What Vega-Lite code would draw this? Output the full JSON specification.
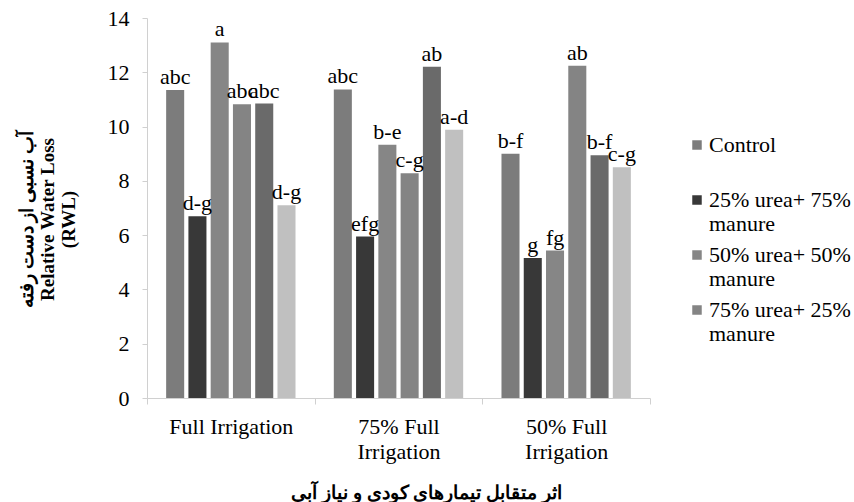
{
  "$schema": "https://vega.github.io/schema/vega-lite/v6.json",
  "width": 503,
  "height": 380,
  "autosize": {"type": "none"},
  "padding": {"left": 147, "top": 18, "right": 204, "bottom": 104},
  "background": "white",
  "config": {"view": {"stroke": null}, "font": "Liberation Serif"},
  "data": {
    "values": [
      {"irrigation": "Full Irrigation", "treatment": "Control", "rwl": 11.35, "letters": "abc"},
      {"irrigation": "Full Irrigation", "treatment": "25% urea+ 75% manure", "rwl": 6.7, "letters": "d-g"},
      {"irrigation": "Full Irrigation", "treatment": "50% urea+ 50% manure", "rwl": 13.1, "letters": "a"},
      {"irrigation": "Full Irrigation", "treatment": "75% urea+ 25% manure", "rwl": 10.82, "letters": "abc"},
      {"irrigation": "Full Irrigation", "treatment": "100% urea", "rwl": 10.85, "letters": "abc"},
      {"irrigation": "Full Irrigation", "treatment": "100% manure", "rwl": 7.1, "letters": "d-g"},
      {"irrigation": "75% Full Irrigation", "treatment": "Control", "rwl": 11.37, "letters": "abc"},
      {"irrigation": "75% Full Irrigation", "treatment": "25% urea+ 75% manure", "rwl": 5.95, "letters": "efg"},
      {"irrigation": "75% Full Irrigation", "treatment": "50% urea+ 50% manure", "rwl": 9.33, "letters": "b-e"},
      {"irrigation": "75% Full Irrigation", "treatment": "75% urea+ 25% manure", "rwl": 8.28, "letters": "c-g"},
      {"irrigation": "75% Full Irrigation", "treatment": "100% urea", "rwl": 12.2, "letters": "ab"},
      {"irrigation": "75% Full Irrigation", "treatment": "100% manure", "rwl": 9.88, "letters": "a-d"},
      {"irrigation": "50% Full Irrigation", "treatment": "Control", "rwl": 9.0, "letters": "b-f"},
      {"irrigation": "50% Full Irrigation", "treatment": "25% urea+ 75% manure", "rwl": 5.16, "letters": "g"},
      {"irrigation": "50% Full Irrigation", "treatment": "50% urea+ 50% manure", "rwl": 5.43, "letters": "fg"},
      {"irrigation": "50% Full Irrigation", "treatment": "75% urea+ 25% manure", "rwl": 12.24, "letters": "ab"},
      {"irrigation": "50% Full Irrigation", "treatment": "100% urea", "rwl": 8.94, "letters": "b-f"},
      {"irrigation": "50% Full Irrigation", "treatment": "100% manure", "rwl": 8.5, "letters": "c-g"}
    ]
  },
  "encoding": {
    "x": {
      "field": "irrigation",
      "type": "nominal",
      "sort": ["Full Irrigation", "75% Full Irrigation", "50% Full Irrigation"],
      "scale": {"paddingInner": 0, "paddingOuter": 0},
      "axis": {
        "labelAngle": 0,
        "labelFontSize": 22,
        "labelColor": "#000000",
        "labelLineHeight": 25,
        "labelBaseline": "top",
        "labelPadding": 12,
        "labelLimit": 300,
        "labelExpr": "datum.value == 'Full Irrigation' ? ['Full Irrigation'] : datum.value == '75% Full Irrigation' ? ['75% Full', 'Irrigation'] : datum.value == '50% Full Irrigation' ? ['50% Full', 'Irrigation'] : ''",
        "tickBand": "extent",
        "tickSize": 6,
        "tickColor": "#d0d0d0",
        "domainColor": "#d0d0d0",
        "title": "اثر متقابل تیمارهای کودی و نیاز آبی",
        "titleFontSize": 19,
        "titleFontWeight": "bold",
        "titleColor": "#000000",
        "titleAlign": "center",
        "titleBaseline": "middle",
        "titleX": 279,
        "titleY": 94
      }
    },
    "xOffset": {
      "field": "treatment",
      "type": "nominal",
      "sort": ["Control", "25% urea+ 75% manure", "50% urea+ 50% manure", "75% urea+ 25% manure", "100% urea", "100% manure"],
      "scale": {"paddingInner": 0.19, "paddingOuter": 0.86}
    },
    "y": {
      "field": "rwl",
      "type": "quantitative",
      "scale": {"domain": [0, 14], "nice": false},
      "axis": {
        "values": [0, 2, 4, 6, 8, 10, 12, 14],
        "grid": false,
        "labelFontSize": 22,
        "labelColor": "#000000",
        "labelPadding": 13,
        "tickSize": 5,
        "tickColor": "#d0d0d0",
        "domainColor": "#d0d0d0",
        "title": ["آب نسبی از دست رفته", "Relative Water Loss", "(RWL)"],
        "titleFontSize": 19,
        "titleFontWeight": "bold",
        "titleColor": "#000000",
        "titleLineHeight": 21,
        "titleAngle": -90,
        "titleAlign": "center",
        "titleBaseline": "middle",
        "titleX": -121,
        "titleY": 201
      }
    }
  },
  "layer": [
    {
      "mark": {"type": "bar"},
      "encoding": {
        "color": {
          "field": "treatment",
          "type": "nominal",
          "scale": {
            "domain": ["Control", "25% urea+ 75% manure", "50% urea+ 50% manure", "75% urea+ 25% manure", "100% urea", "100% manure"],
            "range": ["#7c7c7c", "#383838", "#868686", "#848484", "#6a6a6a", "#c0c0c0"]
          },
          "legend": {
            "values": ["Control", "25% urea+ 75% manure", "50% urea+ 50% manure", "75% urea+ 25% manure"],
            "orient": "none",
            "legendX": 539,
            "legendY": 116,
            "title": null,
            "padding": 0,
            "symbolType": "square",
            "symbolSize": 90,
            "symbolStrokeWidth": 0,
            "labelFontSize": 22,
            "labelColor": "#000000",
            "labelLimit": 400,
            "labelOffset": 1,
            "rowPadding": 9,
            "gridAlign": "all",
            "labelExpr": "datum.label == 'Control' ? ['Control', ''] : [replace(datum.label, ' manure', ''), 'manure']"
          }
        }
      }
    },
    {
      "mark": {"type": "text", "baseline": "alphabetic", "dy": -6, "fontSize": 22, "color": "#000000"},
      "encoding": {"text": {"field": "letters"}}
    }
  ]
}
